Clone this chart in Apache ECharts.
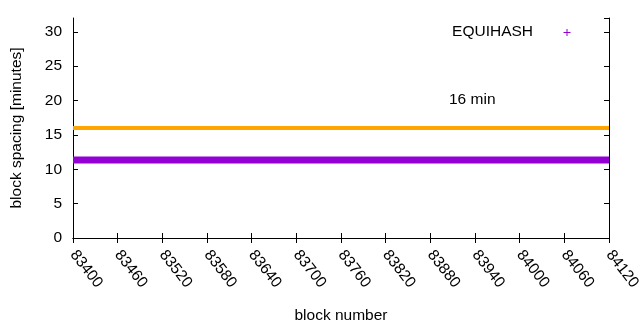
<!DOCTYPE html>
<html><head><meta charset="utf-8">
<script src="https://cdn.jsdelivr.net/npm/echarts@6/dist/echarts.min.js"></script>
<style>html,body{margin:0;padding:0;background:#fff}#c{width:640px;height:330px}</style>
</head><body><div id="c"></div>
<script>
// Data
const blockRange = [83400, 84120];          // x extent of the series (block numbers)
const equihashSpacing = [11.35, 11.35];     // block spacing [minutes] at the ends of the block range
const targetBlocks = [83400, 84120];
const targetSpacing = [16, 16];             // 16 min reference line
const xTicks = [83400, 84120, 60];          // min, max, step
const yTicks = [0, 32, 5];                  // min, max, step
const legendName = 'EQUIHASH';
const refLabel = '16 min';

const font = '"Liberation Sans", Arial, sans-serif';
const fs = 15.5;
const chart = echarts.init(document.getElementById('c'), null, {renderer: 'canvas'});
const axisLine = {show: true, lineStyle: {color: '#000', width: 1}};
const tick = {show: true, inside: true, length: 5, lineStyle: {color: '#000'}};
chart.setOption({
  animation: false,
  backgroundColor: '#fff',
  grid: {left: 73, right: 31, top: 18, bottom: 92, show: false, containLabel: false, outerBoundsMode: 'none'},
  xAxis: [{
    type: 'value', min: xTicks[0], max: xTicks[1], interval: xTicks[2],
    position: 'bottom', axisLine, axisTick: tick, splitLine: {show: false},
    name: 'block number', nameLocation: 'middle', nameGap: 70,
    nameTextStyle: {fontFamily: font, fontSize: fs, color: '#000'},
    axisLabel: {rotate: -52, margin: 14, fontFamily: font, fontSize: fs, color: '#000',
      showMinLabel: true, showMaxLabel: true, hideOverlap: false, formatter: v => String(v)}
  }, {
    type: 'value', min: xTicks[0], max: xTicks[1], interval: xTicks[2],
    position: 'top', axisLine, axisTick: tick, axisLabel: {show: false}, splitLine: {show: false}
  }],
  yAxis: [{
    type: 'value', min: yTicks[0], max: yTicks[1], interval: yTicks[2],
    position: 'left', axisLine, axisTick: tick, splitLine: {show: false},
    name: 'block spacing [minutes]', nameLocation: 'middle', nameGap: 48,
    nameTextStyle: {fontFamily: font, fontSize: fs, color: '#000'},
    axisLabel: {margin: 11, fontFamily: font, fontSize: fs, color: '#000', showMaxLabel: false, formatter: v => String(v)}
  }, {
    type: 'value', min: yTicks[0], max: yTicks[1], interval: yTicks[2],
    position: 'right', axisLine, axisTick: tick, axisLabel: {show: false}, splitLine: {show: false}
  }],
  series: [{
    name: refLabel, type: 'line', symbol: 'none', clip: true,
    data: targetBlocks.map((b, i) => [b, targetSpacing[i]]),
    lineStyle: {color: '#ffa500', width: 4}
  }, {
    name: legendName, type: 'line', symbol: 'none', clip: true,
    data: blockRange.map((b, i) => [b, equihashSpacing[i]]),
    lineStyle: {color: '#9400d3', width: 7}
  }],
  graphic: [
    {type: 'text', left: 449, top: 92, style: {text: refLabel, font: fs + 'px ' + font, fill: '#000'}},
    {type: 'text', right: 640 - 533, top: 24, style: {text: legendName, font: fs + 'px ' + font, fill: '#000'}},
    {type: 'line', shape: {x1: 563.5, y1: 32.5, x2: 570.5, y2: 32.5}, style: {stroke: '#9400d3', lineWidth: 1}},
    {type: 'line', shape: {x1: 567, y1: 29, x2: 567, y2: 36}, style: {stroke: '#9400d3', lineWidth: 1}}
  ]
});
</script></body></html>
